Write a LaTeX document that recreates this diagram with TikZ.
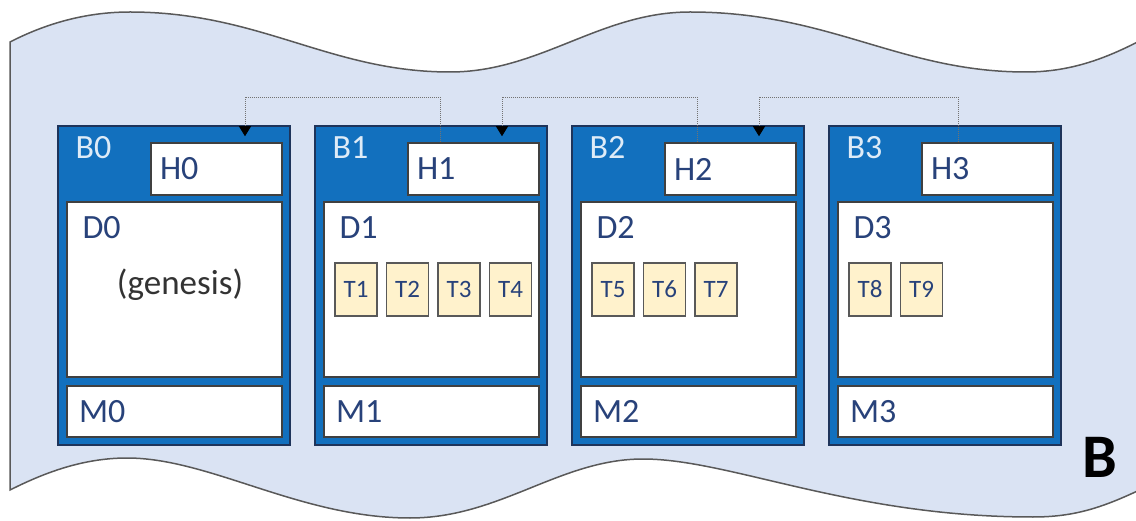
\documentclass[tikz,border=0pt]{standalone}
\usepackage{fontspec}
\setmainfont{Carlito}
\usetikzlibrary{arrows.meta,positioning}
\definecolor{tapefill}{RGB}{218,227,243}
\definecolor{tapeline}{RGB}{89,89,89}
\definecolor{blockblue}{RGB}{18,112,190}
\definecolor{blockedge}{RGB}{30,52,90}
\definecolor{blocktext}{RGB}{222,235,247}
\definecolor{partnavy}{RGB}{40,66,122}
\definecolor{txfill}{RGB}{255,242,204}

\tikzset{
  blockbox/.style={draw=blockedge, fill=blockblue, line width=1.5pt,
    minimum width=232pt, minimum height=319pt, inner sep=0pt},
  partbox/.style={draw=black!75, fill=white, line width=1.5pt, inner ysep=0pt,
    align=left, text=partnavy, font=\fontsize{34}{36}\selectfont},
  headbox/.style={partbox, inner xsep=9pt, text width=113pt, minimum height=52pt},
  databox/.style={partbox, minimum width=215pt, minimum height=175pt},
  metabox/.style={partbox, inner xsep=12pt, text width=191pt, minimum height=51pt},
  txbox/.style={draw=tapeline, fill=txfill, line width=1.5pt, inner sep=0pt,
    minimum width=42pt, minimum height=53pt, text=partnavy,
    font=\fontsize{25}{26}\selectfont},
  link/.style={densely dotted, draw=black!55, line width=1pt, shorten >=6pt,
    -{Triangle[width=12pt,length=10pt,color=black]}}
}

\begin{document}
\begin{tikzpicture}[x=1pt,y=1pt]
  \clip (0,0) rectangle (1136,520);
  % the tape
  \path[draw=tapeline, fill=tapefill, line width=1.5pt]
    (10,478) .. controls (45,496) and (85,508) .. (130,508)
    .. controls (260,508) and (330,448) .. (450,448)
    .. controls (540,448) and (600,508) .. (690,508)
    .. controls (830,508) and (900,448) .. (1026,448)
    .. controls (1080,448) and (1120,468) .. (1160,490)
    -- (1160,40)
    .. controls (1110,15) and (1080,3) .. (1033,3)
    .. controls (850,3) and (730,61) .. (643,61)
    .. controls (560,61) and (500,2) .. (410,2)
    .. controls (300,2) and (210,62) .. (127,62)
    .. controls (80,62) and (40,45) .. (10,30) -- cycle;
  \node[font=\bfseries\fontsize{62}{62}\selectfont] (tapename) at (1100,63) {B};

  % blocks
  \foreach \i in {0,...,3}{
    \node[blockbox] (B\i) at (174+257*\i,234.5) {};
    \node[anchor=base west, text=blocktext, font=\fontsize{34}{36}\selectfont]
      (Blbl\i) at (72+257*\i,361) {B\i};
    \node[headbox] (H\i) at (216.5+257*\i,351) {H\i};
    \node[databox] (D\i) at (174.5+257*\i,230.5) {};
    \node[anchor=base west, text=partnavy, font=\fontsize{34}{36}\selectfont]
      (Dlbl\i) at (79+257*\i,281) {D\i};
    \node[metabox] (M\i) at (174.5+257*\i,108.5) {M\i};
  }
  \node[anchor=base, text=black!80, font=\fontsize{35}{36}\selectfont]
    (genesis) at (180,225) {(genesis)};

  % transactions
  \node[txbox, right=11pt of D1.west] (T1) {T1};
  \node[txbox, right=8pt of T1] (T2) {T2};
  \node[txbox, right=8pt of T2] (T3) {T3};
  \node[txbox, right=8pt of T3] (T4) {T4};
  \node[txbox, right=11pt of D2.west] (T5) {T5};
  \node[txbox, right=8pt of T5] (T6) {T6};
  \node[txbox, right=8pt of T6] (T7) {T7};
  \node[txbox, right=11pt of D3.west] (T8) {T8};
  \node[txbox, right=8pt of T8] (T9) {T9};

  % hash links
  \draw[link] ([xshift=-33.5pt]H1.north) -- ++(0,45) -| ([xshift=28.5pt]H0.north);
  \draw[link] ([xshift=-33.5pt]H2.north) -- ++(0,45) -| ([xshift=28.5pt]H1.north);
  \draw[link] ([xshift=-29.5pt]H3.north) -- ++(0,45) -| ([xshift=28.5pt]H2.north);
\end{tikzpicture}
\end{document}
